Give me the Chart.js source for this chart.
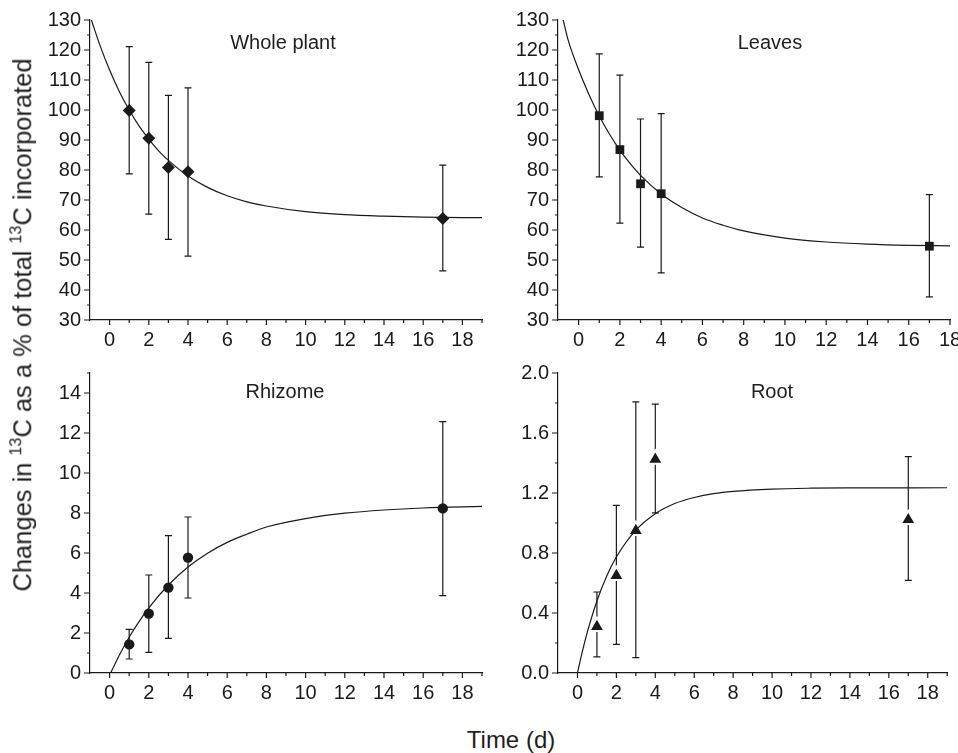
<!DOCTYPE html>
<html>
<head>
<meta charset="utf-8">
<script src="https://cdn.jsdelivr.net/npm/chart.js@4.4.0/dist/chart.umd.min.js"></script>
<style>
body { margin: 0; background: #fff; }
#wrap { position: relative; width: 958px; height: 753px; font-family: "Liberation Sans", Arial, sans-serif; color: #1e1e1e; }
canvas { position: absolute; }
.label { position: absolute; white-space: nowrap; transform: translate(-50%, -50%); line-height: 1; }
.ptitle { font-size: 20px; }
#ytitle { font-size: 25.5px; transform: translate(-50%, -50%) rotate(-90deg); }
#ytitle sup { font-size: 16px; vertical-align: 10px; line-height: 0; }
#xtitle { font-size: 24px; }
</style>
</head>
<body>
<div id="wrap">
  <canvas id="c1" width="490" height="360" style="left:0;top:0"></canvas>
  <canvas id="c2" width="488" height="360" style="left:470px;top:0"></canvas>
  <canvas id="c3" width="490" height="360" style="left:0;top:353px"></canvas>
  <canvas id="c4" width="488" height="360" style="left:470px;top:353px"></canvas>
  <div class="label ptitle" style="left:283px;top:42px">Whole plant</div>
  <div class="label ptitle" style="left:770px;top:42px">Leaves</div>
  <div class="label ptitle" style="left:285px;top:391px">Rhizome</div>
  <div class="label ptitle" style="left:772px;top:391px">Root</div>
  <div class="label" id="ytitle" style="left:23px;top:325px">Changes in <sup>13</sup>C as a % of total <sup>13</sup>C incorporated</div>
  <div class="label" id="xtitle" style="left:511px;top:740px">Time (d)</div>
</div>
<script>
const ink = '#1a1a1a';
const family = '"Liberation Sans", Arial, sans-serif';

// sampling days
const days = [1, 2, 3, 4, 17];
const xLabels = [0, 2, 4, 6, 8, 10, 12, 14, 16, 18];

// whole plant
const wholeMean = [99.8, 90.6, 80.8, 79.4, 63.8];
const wholeHigh = [121.1, 115.9, 104.9, 107.4, 81.6];
const wholeLow = [78.7, 65.3, 56.9, 51.3, 46.4];
const wholeCurveX = [-0.93, -0.5, 0, 0.5, 1, 1.5, 2, 2.5, 3, 4, 5, 6, 7, 8, 10, 12, 14, 16, 19];
const wholeCurveY = [130, 121.7, 113.3, 106.1, 100.0, 94.7, 90.3, 86.4, 83.2, 78.0, 74.2, 71.4, 69.4, 68.0, 66.1, 65.1, 64.6, 64.3, 64.1];

// leaves
const leavesMean = [98.1, 86.8, 75.4, 72.1, 54.6];
const leavesHigh = [118.7, 111.6, 97.0, 98.8, 71.8];
const leavesLow = [77.7, 62.3, 54.3, 45.7, 37.7];
const leavesCurveX = [-0.75, -0.5, 0, 0.5, 1, 1.5, 2, 2.5, 3, 4, 5, 6, 7, 8, 10, 12, 14, 16, 18];
const leavesCurveY = [130, 123.1, 113.4, 105.2, 98.0, 91.9, 86.6, 82.1, 78.2, 72.0, 67.5, 64.0, 61.6, 59.7, 57.3, 56.0, 55.3, 54.9, 54.7];

// rhizome
const rhizomeMean = [1.43, 2.97, 4.27, 5.77, 8.23];
const rhizomeHigh = [2.18, 4.9, 6.87, 7.8, 12.57];
const rhizomeLow = [0.7, 1.03, 1.73, 3.75, 3.87];
const rhizomeCurveX = [0.05, 0.5, 1, 1.5, 2, 3, 4, 5, 6, 7, 8, 10, 12, 14, 16, 19];
const rhizomeCurveY = [0, 0.9, 1.79, 2.57, 3.26, 4.40, 5.30, 5.99, 6.53, 6.94, 7.3, 7.72, 7.99, 8.15, 8.25, 8.33];

// root
const rootMean = [0.31, 0.65, 0.95, 1.425, 1.022];
const rootHigh = [0.54, 1.118, 1.807, 1.793, 1.443];
const rootLow = [0.107, 0.191, 0.103, 1.067, 0.618];
const rootCurveX = [0, 0.25, 0.5, 1, 1.5, 2, 3, 4, 5, 6, 7, 8, 10, 12, 14, 19];
const rootCurveY = [0, 0.143, 0.269, 0.48, 0.645, 0.773, 0.952, 1.062, 1.130, 1.170, 1.196, 1.211, 1.226, 1.232, 1.234, 1.235];

// y tick labels
const percentYLabels = [30, 40, 50, 60, 70, 80, 90, 100, 110, 120, 130];
const rhizomeYLabels = [0, 2, 4, 6, 8, 10, 12, 14];
const rootYLabels = [0, 0.4, 0.8, 1.2, 1.6, 2.0];

const hasLabel = (list, v) => list.some(t => Math.abs(t - v) < 1e-6);

// error bars with caps
const errorBars = {
  id: 'errorBars',
  beforeDatasetsDraw(chart, args, opts) {
    const { ctx, scales: { x, y } } = chart;
    ctx.save();
    ctx.strokeStyle = ink;
    ctx.lineWidth = 1.2;
    days.forEach((d, i) => {
      const px = x.getPixelForValue(d);
      const top = y.getPixelForValue(opts.high[i]);
      const bot = y.getPixelForValue(opts.low[i]);
      ctx.beginPath();
      ctx.moveTo(px, top); ctx.lineTo(px, bot);
      ctx.moveTo(px - 3.5, top); ctx.lineTo(px + 3.5, top);
      ctx.moveTo(px - 3.5, bot); ctx.lineTo(px + 3.5, bot);
      ctx.stroke();
    });
    ctx.restore();
  }
};

// outward tick marks, long for labelled ticks and short for the others
const tickMarks = {
  id: 'tickMarks',
  afterDraw(chart, args, opts) {
    const { ctx, scales: { x, y } } = chart;
    ctx.save();
    ctx.strokeStyle = ink;
    ctx.lineWidth = 1.2;
    ctx.beginPath();
    x.ticks.forEach(t => {
      if (t.value === x.min) return;
      const px = x.getPixelForValue(t.value);
      const len = hasLabel(xLabels, t.value) ? 5 : 3;
      ctx.moveTo(px, x.top); ctx.lineTo(px, x.top + len);
    });
    y.ticks.forEach(t => {
      if (t.value === y.min) return;
      const py = y.getPixelForValue(t.value);
      const len = hasLabel(opts.yLabels, t.value) ? 6 : 3;
      ctx.moveTo(y.right, py); ctx.lineTo(y.right - len, py);
    });
    ctx.moveTo(y.right, y.bottom); ctx.lineTo(y.right - 6, y.bottom);
    ctx.stroke();
    ctx.restore();
  }
};

function panel(id, o) {
  new Chart(document.getElementById(id), {
    type: 'scatter',
    data: {
      datasets: [
        {
          type: 'line',
          data: o.curveX.map((cx, i) => ({ x: cx, y: o.curveY[i] })),
          borderColor: ink,
          borderWidth: 1.2,
          pointRadius: 0,
          fill: false,
          cubicInterpolationMode: 'monotone'
        },
        {
          data: days.map((d, i) => ({ x: d, y: o.mean[i] })),
          pointStyle: o.marker,
          pointRadius: o.radius,
          backgroundColor: ink,
          borderColor: o.outline || ink,
          borderWidth: o.outlineWidth || 0
        }
      ]
    },
    options: {
      responsive: false,
      animation: false,
      devicePixelRatio: 1,
      layout: { padding: { top: 20, right: 8, left: 0, bottom: 0 } },
      plugins: {
        legend: { display: false },
        tooltip: { enabled: false },
        errorBars: { high: o.high, low: o.low },
        tickMarks: { yLabels: o.yLabels }
      },
      scales: {
        x: {
          type: 'linear',
          min: -1,
          max: o.xMax,
          grid: { display: false, drawTicks: false },
          border: { display: true, color: ink, width: 1.2 },
          ticks: {
            stepSize: 1,
            autoSkip: false,
            maxRotation: 0,
            padding: 8,
            color: ink,
            font: { size: 20, family },
            callback: v => hasLabel(xLabels, v) ? String(v) : ''
          },
          afterFit: s => { s.height = 40; s.paddingLeft = 0; s.paddingRight = 0; }
        },
        y: {
          type: 'linear',
          min: o.yMin,
          max: o.yMax,
          grid: { display: false, drawTicks: false },
          border: { display: true, color: ink, width: 1.2 },
          ticks: {
            stepSize: o.yStep,
            autoSkip: false,
            padding: 9,
            color: ink,
            font: { size: 20, family },
            callback: v => hasLabel(o.yLabels, v) ? o.fmt(v) : ''
          },
          afterFit: s => { s.width = o.yWidth; s.paddingTop = 0; s.paddingBottom = 0; }
        }
      }
    },
    plugins: [errorBars, tickMarks]
  });
}

panel('c1', {
  mean: wholeMean, high: wholeHigh, low: wholeLow,
  curveX: wholeCurveX, curveY: wholeCurveY,
  marker: 'rectRot', radius: 6.5,
  xMax: 19, yMin: 30, yMax: 130, yStep: 5, yLabels: percentYLabels,
  fmt: v => String(v), yWidth: 90
});
panel('c2', {
  mean: leavesMean, high: leavesHigh, low: leavesLow,
  curveX: leavesCurveX, curveY: leavesCurveY,
  marker: 'rect', radius: 6.2,
  xMax: 18, yMin: 30, yMax: 130, yStep: 5, yLabels: percentYLabels,
  fmt: v => String(v), yWidth: 88
});
panel('c3', {
  mean: rhizomeMean, high: rhizomeHigh, low: rhizomeLow,
  curveX: rhizomeCurveX, curveY: rhizomeCurveY,
  marker: 'circle', radius: 5.2,
  xMax: 19, yMin: 0, yMax: 15, yStep: 1, yLabels: rhizomeYLabels,
  fmt: v => String(v), yWidth: 90
});
panel('c4', {
  mean: rootMean, high: rootHigh, low: rootLow,
  curveX: rootCurveX, curveY: rootCurveY,
  marker: 'triangle', radius: 8.8, outline: '#ffffff', outlineWidth: 2,
  xMax: 19, yMin: 0, yMax: 2, yStep: 0.2, yLabels: rootYLabels,
  fmt: v => v.toFixed(1), yWidth: 88
});
</script>
</body>
</html>
